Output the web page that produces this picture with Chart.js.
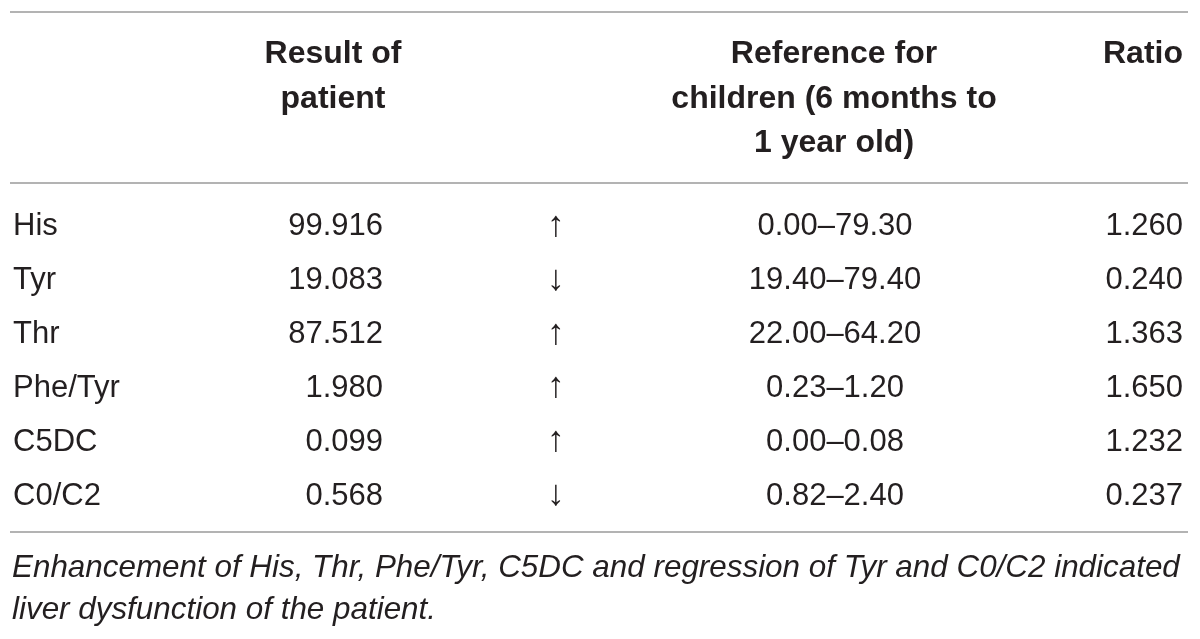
<!DOCTYPE html>
<html>
<head>
<meta charset="utf-8">
<title>Amino acid and acylcarnitine results</title>
<script src="https://cdn.jsdelivr.net/npm/chart.js@4.4.1/dist/chart.umd.min.js"></script>
<style>
    html, body { margin: 0; padding: 0; background: #fff; }
    #wrap { width: 1200px; height: 639px; }
</style>
</head>
<body>
<div id="wrap"><canvas id="resultTable"></canvas></div>
<script>
// Table values
const analytes = ['His', 'Tyr', 'Thr', 'Phe/Tyr', 'C5DC', 'C0/C2'];
const patientResults = [99.916, 19.083, 87.512, 1.980, 0.099, 0.568];
const trends = ['↑', '↓', '↑', '↑', '↑', '↓'];
const referenceLow = [0.00, 19.40, 22.00, 0.23, 0.00, 0.82];
const referenceHigh = [79.30, 79.40, 64.20, 1.20, 0.08, 2.40];
const ratios = [1.260, 0.240, 1.363, 1.650, 1.232, 0.237];

const headerLines = [
    [],
    ['Result of', 'patient'],
    [],
    ['Reference for', 'children (6 months to', '1 year old)'],
    ['Ratio']
];
const footnoteLines = [
    'Enhancement of His, Thr, Phe/Tyr, C5DC and regression of Tyr and C0/C2 indicated',
    'liver dysfunction of the patient.'
];

// Cell texts per column
const columnTexts = [
    analytes,
    patientResults.map(v => v.toFixed(3)),
    trends,
    referenceLow.map((lo, i) => lo.toFixed(2) + '–' + referenceHigh[i].toFixed(2)),
    ratios.map(v => v.toFixed(3))
];

// Column anchors on the x scale (0..1200) and text alignment
const columns = [
    { x: 13, align: 'left' },
    { x: 383, align: 'right', headerX: 333, headerAlign: 'center' },
    { x: 556, align: 'center', font: '36px ', arrow: true },
    { x: 835, align: 'center', headerX: 834 },
    { x: 1183, align: 'right' }
];

const INK = '#231f20';
const RULE = '#b3b3b3';
const FONT = '"Liberation Sans", Arial, Helvetica, sans-serif';

const tablePlugin = {
    id: 'tablePlugin',
    afterDraw(chart) {
        const ctx = chart.ctx;
        const xs = chart.scales.x;
        const ys = chart.scales.y;

        ctx.save();

        // rules
        ctx.strokeStyle = RULE;
        ctx.lineWidth = 2;
        [12, 183, 532].forEach(y => {
            ctx.beginPath();
            ctx.moveTo(xs.getPixelForValue(10), y);
            ctx.lineTo(xs.getPixelForValue(1188), y);
            ctx.stroke();
        });

        // header
        ctx.fillStyle = INK;
        ctx.font = 'bold 32px ' + FONT;
        ctx.textBaseline = 'alphabetic';
        headerLines.forEach((lines, c) => {
            const col = columns[c];
            ctx.textAlign = col.headerAlign || col.align;
            const hx = xs.getPixelForValue(col.headerX !== undefined ? col.headerX : col.x);
            lines.forEach((txt, l) => {
                ctx.fillText(txt, hx, 63 + l * 44.5);
            });
        });

        // body cells
        columnTexts.forEach((texts, c) => {
            const col = columns[c];
            ctx.font = (col.font || '31px ') + FONT;
            ctx.textAlign = col.align;
            ctx.textBaseline = col.arrow ? 'middle' : 'alphabetic';
            texts.forEach((txt, r) => {
                const yc = ys.getPixelForValue(r);
                const y = col.arrow ? yc + 2 : yc + 11.5;
                ctx.fillText(txt, xs.getPixelForValue(col.x), y);
            });
        });

        // footnote
        ctx.font = 'italic 31.4px ' + FONT;
        ctx.textAlign = 'left';
        ctx.textBaseline = 'alphabetic';
        footnoteLines.forEach((txt, l) => {
            ctx.fillText(txt, xs.getPixelForValue(12), 577 + l * 42);
        });

        ctx.restore();
    }
};

const tableCtx = document.getElementById('resultTable').getContext('2d');
const tableChart = new Chart(tableCtx, {
    type: 'line',
    data: {
        labels: analytes,
        datasets: []
    },
    options: {
        responsive: true,
        maintainAspectRatio: false,
        animation: false,
        layout: { padding: { top: 197, bottom: 119, left: 0, right: 0 } },
        plugins: {
            legend: { display: false },
            tooltip: { enabled: false },
            title: { display: false }
        },
        scales: {
            x: { type: 'linear', min: 0, max: 1200, display: false },
            y: { type: 'category', labels: analytes, offset: true, display: false }
        }
    },
    plugins: [tablePlugin]
});
</script>
</body>
</html>
